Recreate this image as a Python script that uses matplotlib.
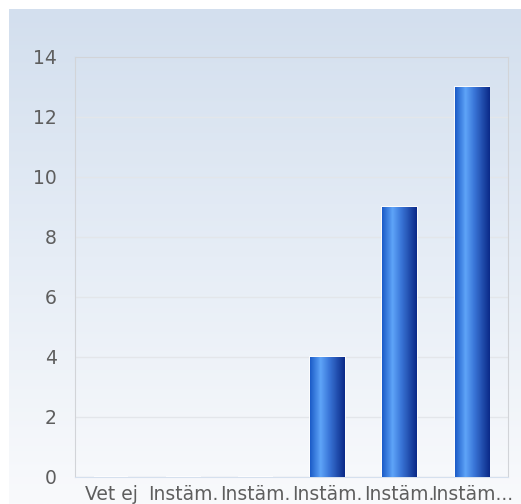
import numpy as np
import matplotlib
matplotlib.use('Agg')
import matplotlib.pyplot as plt
from matplotlib.colors import LinearSegmentedColormap

categories = ['Vet ej', 'Instäm.', 'Instäm.', 'Instäm.', 'Instäm.', 'Instäm...']
counts = [0, 0, 0, 4, 9, 13]
yticks = [0, 2, 4, 6, 8, 10, 12, 14]

W, H = 521, 504
fig = plt.figure(figsize=(W / 100, H / 100), dpi=100)

# background gradient panel (white margin top/left)
bg = fig.add_axes([9 / W, 0, 1 - 9 / W, 1 - 9 / H], zorder=-10)
bg_cmap = LinearSegmentedColormap.from_list('bg', ['#d3dfee', '#e6edf6', '#f9fafc'])
bg.imshow(np.linspace(0, 1, 256).reshape(-1, 1), aspect='auto', cmap=bg_cmap,
          extent=[0, 1, 0, 1])
bg.axis('off')

ax = fig.add_axes([75 / W, 27 / H, 433 / W, 420 / H])
ax.patch.set_alpha(0)

bar_cmap = LinearSegmentedColormap.from_list(
    'bar', [(0, '#1c5cc8'), (0.3, '#5ea4f8'), (0.55, '#3a76d8'), (1, '#0b2a88')])
grad = np.linspace(0, 1, 64).reshape(1, -1)

x = np.arange(len(categories))
bars = ax.bar(x, counts, width=0.48, color='#2f6fd6', edgecolor='white',
              linewidth=1.2, zorder=3)
for b in bars:
    if b.get_height() <= 0:
        continue
    x0, w, h = b.get_x(), b.get_width(), b.get_height()
    im = ax.imshow(grad, extent=[x0, x0 + w, 0, h], aspect='auto', cmap=bar_cmap,
                   zorder=4)
    im.set_clip_path(b)

ax.set_xlim(-0.5, len(categories) - 0.5)
ax.set_ylim(0, 14)
ax.set_yticks(yticks)
ax.set_xticks(x)
ax.set_xticklabels(categories)
ax.grid(axis='y', color='#e3e6ea', linewidth=1, zorder=1)
ax.set_axisbelow(True)

for side in ['left', 'top', 'right']:
    ax.spines[side].set_color('#d2d4d8')
ax.spines['bottom'].set_color('#d5e0ee')

ax.tick_params(length=0, labelsize=13.5, labelcolor='#5e5e5e')
ax.tick_params(axis='y', pad=13)
ax.tick_params(axis='x', pad=6)

fig.savefig('out.png', dpi=100)
